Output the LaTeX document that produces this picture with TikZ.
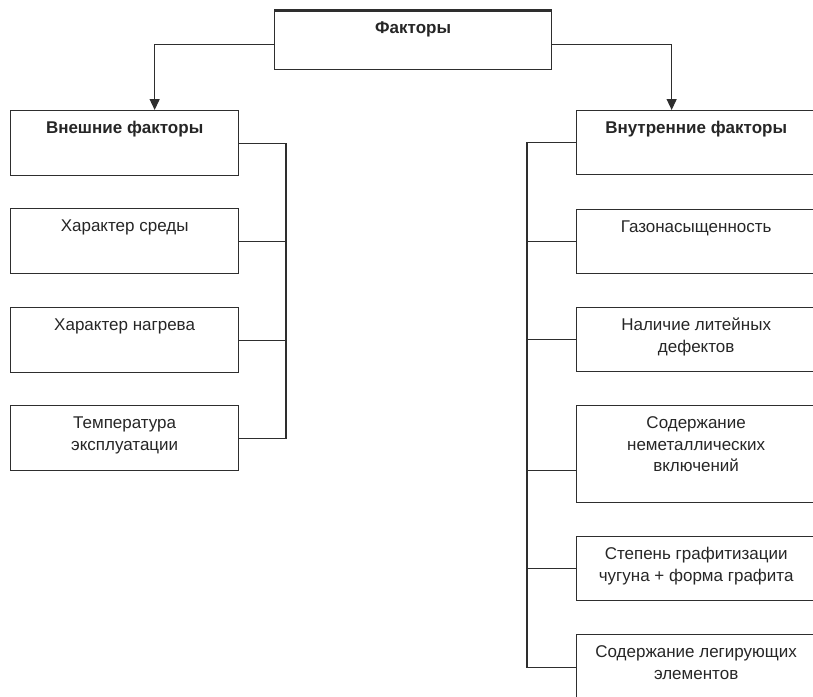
\documentclass[tikz,border=0pt]{standalone}
\usepackage{fontspec}
\setmainfont{Liberation Sans}
\usetikzlibrary{arrows.meta}

\definecolor{lineclr}{HTML}{2E2E2E}
\definecolor{textclr}{HTML}{262626}

% box text: width, height, text (top aligned)
\newcommand{\boxtext}[3]{\parbox[c][#2][t]{#1}{\centering\rule{0pt}{23pt}#3\par}}

\tikzset{
  factbox/.style={draw=lineclr, line width=1.3pt, inner sep=0pt, anchor=north west, text=textclr},
  conn/.style={draw=lineclr, line width=1.3pt}
}

\begin{document}
\begin{tikzpicture}[x=1pt, y=-1pt, font=\fontsize{17}{21.5}\selectfont]
        \useasboundingbox (0,0) rectangle (813,696);

        % top
        \node[factbox] (factors) at (274,10) {\boxtext{277pt}{59pt}{\textbf{Факторы}}};
        \draw[line width=3pt,lineclr] (factors.north west) -- (factors.north east);

        % left column
        \node[factbox] (ext)  at (10,110) {\boxtext{228pt}{65pt}{\textbf{Внешние факторы}}};
        \node[factbox] (env)  at (10,208) {\boxtext{228pt}{65pt}{Характер среды}};
        \node[factbox] (heat) at (10,307) {\boxtext{228pt}{65pt}{Характер нагрева}};
        \node[factbox] (temp) at (10,405) {\boxtext{228pt}{65pt}{Температура\\эксплуатации}};

        % right column
        \node[factbox] (int)    at (576,110) {\boxtext{239pt}{64pt}{\textbf{Внутренние факторы}}};
        \node[factbox] (gas)    at (576,209) {\boxtext{239pt}{64pt}{Газонасыщенность}};
        \node[factbox] (cast)   at (576,307) {\boxtext{239pt}{64pt}{Наличие литейных\\дефектов}};
        \node[factbox] (nonmet) at (576,405) {\boxtext{239pt}{97pt}{Содержание\\неметаллических\\включений}};
        \node[factbox] (graph)  at (576,536) {\boxtext{239pt}{64pt}{Степень графитизации\\чугуна + форма графита}};
        \node[factbox] (alloy)  at (576,634) {\boxtext{239pt}{65pt}{Содержание легирующих\\элементов}};

        % arrows
        \draw[conn,-{Triangle[length=11pt,width=10pt]}] ([yshift=-4pt]factors.west) -| ([xshift=30pt]ext.north);
        \draw[conn,-{Triangle[length=11pt,width=10pt]}] ([yshift=-4pt]factors.east) -| ([xshift=-24.5pt]int.north);

        % left bus
        \coordinate (lbus) at (286,0);
        \draw[conn] (ext.east) -| (lbus |- temp.east) -- (temp.east);
        \draw[conn] (env.east) -- (lbus |- env.east);
        \draw[conn] (heat.east) -- (lbus |- heat.east);

        % right bus
        \coordinate (rbus) at (527,0);
        \coordinate (nonmet-in) at ([yshift=-16.5pt]nonmet.west);
        \draw[conn] (int.west) -| (rbus |- alloy.west) -- (alloy.west);
        \draw[conn] (gas.west) -- (rbus |- gas.west);
        \draw[conn] (cast.west) -- (rbus |- cast.west);
        \draw[conn] (nonmet-in) -- (rbus |- nonmet-in);
        \draw[conn] (graph.west) -- (rbus |- graph.west);

\end{tikzpicture}
\end{document}
